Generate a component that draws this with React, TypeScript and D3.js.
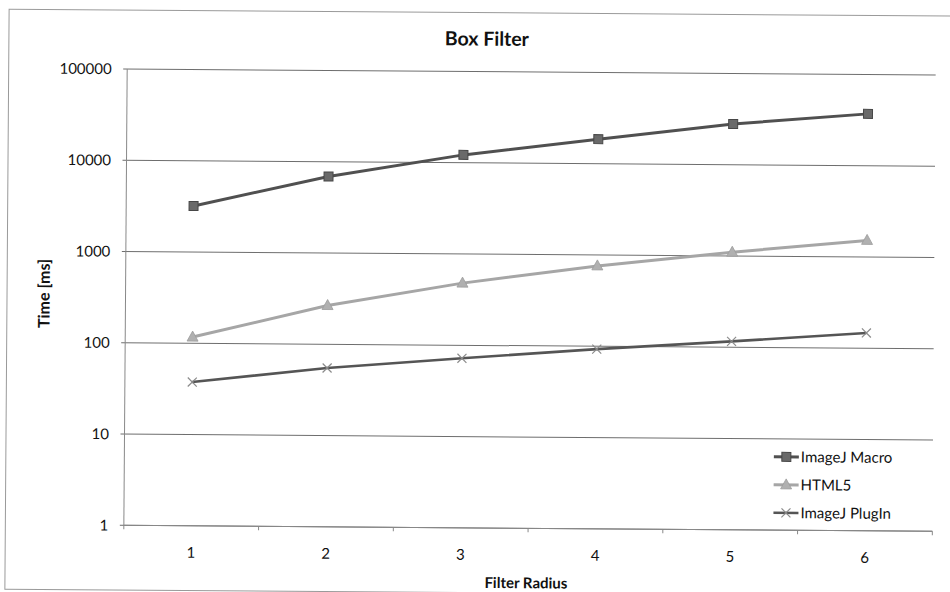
import React from 'react'
import * as d3 from 'd3'

// values (log scale)
const radius = ['1', '2', '3', '4', '5', '6']
const macroMs = [3200, 6900, 12200, 18600, 28000, 37000]
const html5Ms = [117, 266, 480, 760, 1100, 1520]
const pluginMs = [37.6, 55, 72, 93, 116, 147]
const yTicks = [1, 10, 100, 1000, 10000, 100000]
const seriesNames = ['ImageJ Macro', 'HTML5', 'ImageJ PlugIn']

const W = 950
const H = 592
const left = 125.5
const right = 934
const top = 72
const bottom = 528.3
const font = 'Lato, "Open Sans", sans-serif'

function Marker({ kind, x, y }: { kind: string; x: number; y: number }) {
  if (kind === 'square') {
    return <rect x={x - 4.5} y={y - 4.5} width={9} height={9} fill="#6a6a6a" stroke="#474747" strokeWidth={1} />
  }
  if (kind === 'triangle') {
    return <path d={`M${x},${y - 6}L${x + 5.5},${y + 4}L${x - 5.5},${y + 4}Z`} fill="#b0b0b0" stroke="#9c9c9c" strokeWidth={0.8} />
  }
  return (
    <g stroke="#8a8a8a" strokeWidth={1.2}>
      <line x1={x - 4.5} y1={y - 4.5} x2={x + 4.5} y2={y + 4.5} />
      <line x1={x - 4.5} y1={y + 4.5} x2={x + 4.5} y2={y - 4.5} />
    </g>
  )
}

export default function App() {
  const x = d3.scaleBand().domain(radius).range([left, right])
  const y = d3.scaleLog().domain([1, 100000]).range([bottom, top])
  const cx = (d: string) => (x(d) as number) + x.bandwidth() / 2

  const series = [
    { name: seriesNames[0], values: macroMs, color: '#505050', width: 3, marker: 'square' },
    { name: seriesNames[1], values: html5Ms, color: '#a6a6a6', width: 3, marker: 'triangle' },
    { name: seriesNames[2], values: pluginMs, color: '#555', width: 2.6, marker: 'cross' },
  ]

  const line = d3.line<number>()
    .x((_, i) => cx(radius[i]))
    .y(d => y(d))

  const bounds = x.domain().map(d => x(d) as number).concat([right])

  return (
    <svg width={W} height={H} style={{ position: 'absolute', left: 0, top: 0, background: '#fff' }}>
      <rect width={W} height={H} fill="#fff" />
      <g transform="rotate(0.42, 530, 300)" fontFamily={font}>
        <rect x={7} y={13} width={980} height={580} fill="none" stroke="#9a9a9a" strokeWidth={1} />

        <text x={485} y={46} textAnchor="middle" fontSize={19.5} fontWeight="bold" fill="#111">Box Filter</text>

        {/* grid + y axis */}
        {yTicks.map(t => (
          <g key={t}>
            <line x1={left - 4} x2={right} y1={y(t)} y2={y(t)} stroke="#6e6e6e" strokeWidth={1} />
            <text x={110} y={y(t)} dy="0.35em" textAnchor="end" fontSize={15} fill="#111">{t}</text>
          </g>
        ))}
        <line x1={left} x2={left} y1={top} y2={bottom} stroke="#888" strokeWidth={1} />

        {/* x axis */}
        <line x1={left} x2={right} y1={bottom} y2={bottom} stroke="#888" strokeWidth={1} />
        {bounds.map((b, i) => (
          <line key={i} x1={b} x2={b} y1={bottom} y2={bottom + 4} stroke="#888" strokeWidth={1} />
        ))}
        {radius.map(r => (
          <text key={r} x={cx(r)} y={555} dy="0.35em" textAnchor="middle" fontSize={15} fill="#111">{r}</text>
        ))}

        <text x={528} y={583} dy="0.35em" textAnchor="middle" fontSize={15} fontWeight="bold" fill="#111">Filter Radius</text>
        <text transform="translate(44,297) rotate(-90)" textAnchor="middle" dy="0.35em" fontSize={16} fontWeight="bold" fill="#111">Time [ms]</text>

        {/* series */}
        {series.map(s => (
          <g key={s.name}>
            <path d={line(s.values) as string} fill="none" stroke={s.color} strokeWidth={s.width} />
            {s.values.map((v, i) => (
              <Marker key={i} kind={s.marker} x={cx(radius[i])} y={y(v)} />
            ))}
          </g>
        ))}

        {/* legend */}
        {series.map((s, i) => {
          const ly = 455 + i * 28
          return (
            <g key={s.name}>
              <line x1={775} x2={800} y1={ly} y2={ly} stroke={s.color} strokeWidth={s.width} />
              <Marker kind={s.marker} x={787.5} y={ly} />
              <text x={802} y={ly} dy="0.35em" fontSize={15} fill="#111">{s.name}</text>
            </g>
          )
        })}
      </g>
    </svg>
  )
}
